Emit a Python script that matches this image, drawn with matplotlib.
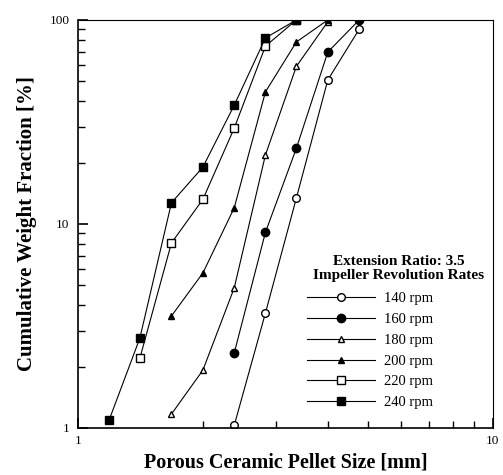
import matplotlib
matplotlib.use("Agg")
import matplotlib.pyplot as plt
from matplotlib.ticker import LogLocator, NullFormatter, FixedLocator, FixedFormatter

plt.rcParams["font.family"] = ["Liberation Serif", "DejaVu Serif"]

# sieve sizes [mm] and cumulative weight fraction [%]
size_140 = [2.38, 2.83, 3.36, 4.0, 4.76]
frac_140 = [1.03, 3.66, 13.4, 50.8, 90]
size_160 = [2.38, 2.83, 3.36, 4.0, 4.76]
frac_160 = [2.33, 9.1, 23.5, 69.6, 100]
size_180 = [1.68, 2.0, 2.38, 2.83, 3.36, 4.0]
frac_180 = [1.17, 1.92, 4.86, 21.8, 59.2, 98]
size_200 = [1.68, 2.0, 2.38, 2.83, 3.36, 4.0]
frac_200 = [3.54, 5.75, 12.0, 44.4, 78, 100]
size_220 = [1.41, 1.68, 2.0, 2.38, 2.83, 3.36]
frac_220 = [2.2, 8.07, 13.2, 29.5, 74.4, 100]
size_240 = [1.19, 1.41, 1.68, 2.0, 2.38, 2.83, 3.36]
frac_240 = [1.1, 2.76, 12.7, 19.0, 38.2, 81.6, 100]

labels = ["140 rpm", "160 rpm", "180 rpm", "200 rpm", "220 rpm", "240 rpm"]

fig = plt.figure(figsize=(5.03, 4.75), dpi=100)
ax = fig.add_axes([0.155, 0.099, 0.825, 0.859])

style = dict(color="black", lw=0.8)
ax.plot(size_140, frac_140, marker="o", ms=5.5, mfc="white", mec="black", label=labels[0], **style)
ax.plot(size_160, frac_160, marker="o", ms=6, mfc="black", mec="black", label=labels[1], **style)
ax.plot(size_180, frac_180, marker="^", ms=4.5, mfc="white", mec="black", label=labels[2], **style)
ax.plot(size_200, frac_200, marker="^", ms=4.5, mfc="black", mec="black", label=labels[3], **style)
ax.plot(size_220, frac_220, marker="s", ms=5.5, mfc="white", mec="black", label=labels[4], **style)
ax.plot(size_240, frac_240, marker="s", ms=5.5, mfc="black", mec="black", label=labels[5], **style)

ax.set_xscale("log")
ax.set_yscale("log")
ax.set_xlim(1, 10)
ax.set_ylim(1, 100)

ax.xaxis.set_major_locator(FixedLocator([1, 10]))
ax.xaxis.set_major_formatter(FixedFormatter(["1", "10"]))
ax.yaxis.set_major_locator(FixedLocator([1, 10, 100]))
ax.yaxis.set_major_formatter(FixedFormatter(["1", "10", "100"]))
ax.xaxis.set_minor_locator(LogLocator(base=10, subs=range(2, 10)))
ax.yaxis.set_minor_locator(LogLocator(base=10, subs=range(2, 10)))
ax.xaxis.set_minor_formatter(NullFormatter())
ax.yaxis.set_minor_formatter(NullFormatter())

ax.tick_params(which="both", direction="in", top=False, right=False, labelsize=9.5)
ax.tick_params(which="major", length=7, width=1.2)
ax.tick_params(which="minor", length=5, width=1.0)
ax.tick_params(axis="x", pad=5)
ax.tick_params(axis="y", pad=6)

for sp in ax.spines.values():
    sp.set_linewidth(0.8)
ax.spines["left"].set_linewidth(1.2)
ax.spines["bottom"].set_linewidth(1.2)

ax.set_xlabel("Porous Ceramic Pellet Size [mm]", fontsize=14.5, fontweight="bold", labelpad=4)
ax.set_ylabel("Cumulative Weight Fraction [%]", fontsize=15, fontweight="bold", labelpad=9)

# legend title drawn separately so it sits right of the entry block, as in the original
ax.text(0.772, 0.39, "Extension Ratio: 3.5\nImpeller Revolution Rates", transform=ax.transAxes,
        ha="center", va="center", fontsize=11, fontweight="bold", linespacing=1.1)
ax.legend(loc="upper left", bbox_to_anchor=(0.552, 0.333), frameon=False, fontsize=10.5,
          handlelength=4.65, handletextpad=0.6, labelspacing=0.52, borderpad=0, borderaxespad=0)

fig.savefig("out.png", dpi=100)
